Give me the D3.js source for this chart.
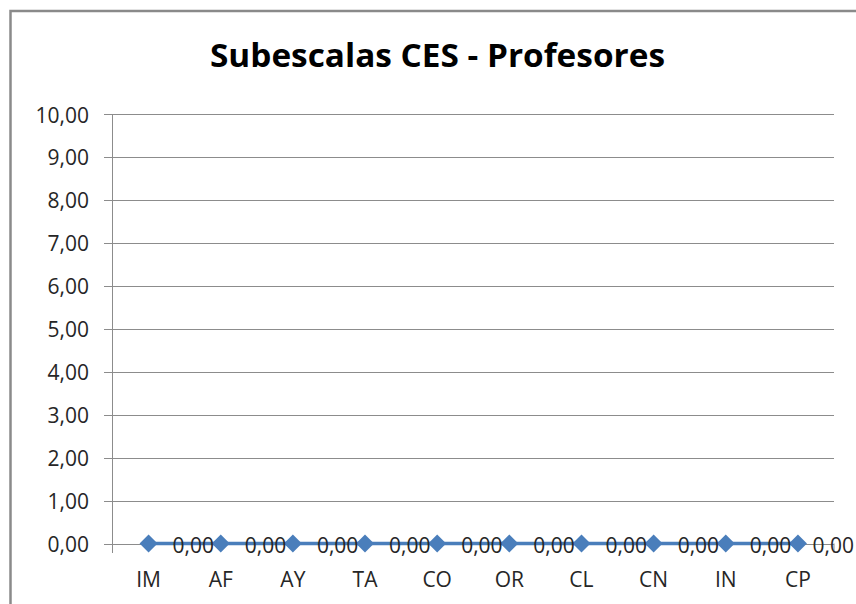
<!DOCTYPE html>
<html><head><meta charset="utf-8">
<script src="https://cdn.jsdelivr.net/npm/d3@7"></script>
<style>
html,body{margin:0;padding:0;background:#fff;}
svg{display:block;}
text{font-family:"Open Sans",sans-serif;}
</style></head>
<body>
<script>
const categories = ["IM","AF","AY","TA","CO","OR","CL","CN","IN","CP"];
const values = [0,0,0,0,0,0,0,0,0,0];
const yTicks = [0,1,2,3,4,5,6,7,8,9,10];
const title = "Subescalas CES - Profesores";

const W = 856, H = 604;
const svg = d3.select("body").append("svg").attr("width", W).attr("height", H);

// outer chart border (cropped on the right and bottom)
svg.append("rect").attr("x",10.5).attr("y",11).attr("width",W+20).attr("height",H+20)
  .attr("fill","#fff").attr("stroke","#8a8a8a").attr("stroke-width",2.5);

const pLeft = 112.5, pRight = 834, pTop = 114, pBottom = 543.5;
const x = d3.scaleBand().domain(categories).range([pLeft, pRight]).paddingInner(0).paddingOuter(0);
const y = d3.scaleLinear().domain([0,10]).range([pBottom, pTop]);
const loc = d3.formatLocale({decimal: ",", thousands: ".", grouping: [3], currency: ["",""]});
const fmt = loc.format(".2f");

// title
svg.append("text").attr("x",437.5).attr("y",67).attr("text-anchor","middle")
  .attr("font-size",32).attr("font-weight","bold").attr("fill","#000")
  .attr("textLength",455).attr("lengthAdjust","spacingAndGlyphs").text(title);

// gridlines
svg.append("g").selectAll("line").data(yTicks).join("line")
  .attr("x1",104).attr("x2",pRight).attr("y1",d=>Math.round(y(d))+0.5).attr("y2",d=>Math.round(y(d))+0.5)
  .attr("stroke","#8c8c8c").attr("stroke-width",1);

// y axis via d3 axis (labels only)
const yAxis = d3.axisLeft(y).tickValues(yTicks).tickFormat(fmt).tickSize(0).tickPadding(0);
const gy = svg.append("g").attr("transform","translate(89,0)").call(yAxis);
gy.select(".domain").remove();
gy.selectAll("text").attr("font-size",21).attr("fill","#262626").attr("dy",null)
  .attr("y",8).attr("font-family","'Open Sans',sans-serif");

// axis lines
svg.append("line").attr("x1",pLeft).attr("x2",pLeft).attr("y1",pTop).attr("y2",553)
  .attr("stroke","#8c8c8c").attr("stroke-width",1);
svg.append("line").attr("x1",pRight).attr("x2",pRight).attr("y1",pBottom).attr("y2",553)
  .attr("stroke","#8c8c8c").attr("stroke-width",1);

// category labels
svg.append("g").selectAll("text").data(categories).join("text")
  .attr("x",d=>x(d)+x.bandwidth()/2).attr("y",587).attr("text-anchor","middle")
  .attr("font-size",21).attr("fill","#262626").text(d=>d);

const data = categories.map((c,i)=>({c, v: values[i]}));
const cx = d => x(d.c)+x.bandwidth()/2;

// line
svg.append("path").datum(data)
  .attr("d", d3.line().x(cx).y(d=>y(d.v)))
  .attr("fill","none").attr("stroke","#4a7ebb").attr("stroke-width",3.5);

// markers
svg.append("g").selectAll("path").data(data).join("path")
  .attr("transform",d=>`translate(${cx(d)},${y(d.v)})`)
  .attr("d","M0,-9L9,0L0,9L-9,0Z").attr("fill","#4a7ebb");

// data labels (kept inside the chart's right edge, as the original does)
svg.append("g").selectAll("text").data(data).join("text")
  .attr("x",d=>cx(d)+24).attr("y",d=>y(d.v)+9)
  .attr("font-size",21).attr("fill","#262626").text(d=>fmt(d.v))
  .each(function(){
    const w = this.getComputedTextLength();
    const x0 = +this.getAttribute("x");
    if (x0 + w > W - 2) this.setAttribute("x", W - 2 - w);
  });
</script>
</body></html>
